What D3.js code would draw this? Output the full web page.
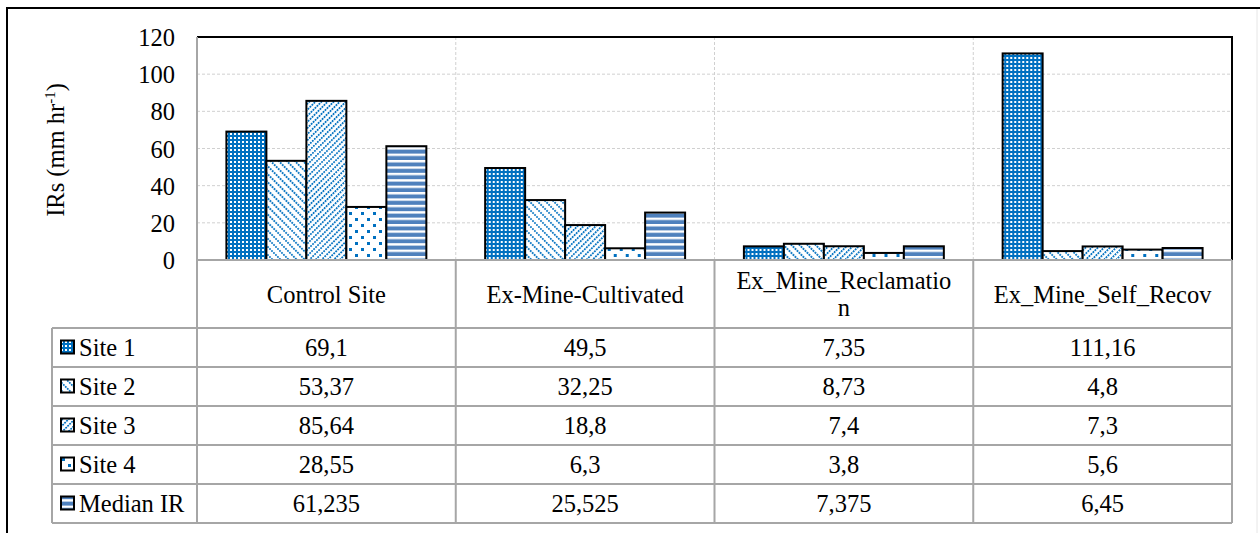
<!DOCTYPE html>
<html>
<head>
<meta charset="utf-8">
<script src="https://cdn.jsdelivr.net/npm/d3@7"></script>
<style>
  body { margin: 0; background: #fff; }
</style>
</head>
<body>
<script>
// chart data
const categories = ["Control Site", "Ex-Mine-Cultivated", "Ex_Mine_Reclamation", "Ex_Mine_Self_Recov"];
const categoryLines = [["Control Site"], ["Ex-Mine-Cultivated"], ["Ex_Mine_Reclamatio", "n"], ["Ex_Mine_Self_Recov"]];
const seriesNames = ["Site 1", "Site 2", "Site 3", "Site 4", "Median IR"];
const site1 = [69.1, 49.5, 7.35, 111.16];
const site2 = [53.37, 32.25, 8.73, 4.8];
const site3 = [85.64, 18.8, 7.4, 7.3];
const site4 = [28.55, 6.3, 3.8, 5.6];
const medianIR = [61.235, 25.525, 7.375, 6.45];
const yTicks = [0, 20, 40, 60, 80, 100, 120];

const allSeries = [site1, site2, site3, site4, medianIR];

const w = 1260, h = 533;
const plotL = 197, plotR = 1232, plotT = 37, plotB = 260;
const rowTop = 328, rowH = 39, tableLeft = 52;
const gridCol = "#a6a6a6";
const fontFam = "Liberation Serif";
const fs = 24.5;

const svg = d3.select("body").append("svg")
  .attr("width", w).attr("height", h)
  .attr("font-family", fontFam);

// patterns
const defs = svg.append("defs");
const blue = "#0070c0";

// Site 1: blue with small white dots
let p = defs.append("pattern").attr("id", "pat0").attr("patternUnits", "userSpaceOnUse")
  .attr("width", 4).attr("height", 4);
p.append("rect").attr("width", 4).attr("height", 4).attr("fill", blue);
p.append("rect").attr("x", 1).attr("y", 1).attr("width", 2).attr("height", 2).attr("fill", "#fff");

// Site 2: dotted "\" lines
p = defs.append("pattern").attr("id", "pat1").attr("patternUnits", "userSpaceOnUse")
  .attr("width", 5.7).attr("height", 2.8).attr("patternTransform", "rotate(-45)");
p.append("rect").attr("width", 5.7).attr("height", 2.8).attr("fill", "#fff");
p.append("rect").attr("width", 1.8).attr("height", 1.8).attr("fill", blue);

// Site 3: dotted "/" lines
p = defs.append("pattern").attr("id", "pat2").attr("patternUnits", "userSpaceOnUse")
  .attr("width", 4.3).attr("height", 2.8).attr("patternTransform", "rotate(45)");
p.append("rect").attr("width", 4.3).attr("height", 2.8).attr("fill", "#fff");
p.append("rect").attr("width", 1.8).attr("height", 1.8).attr("fill", blue);

// Site 4: sparse dots
p = defs.append("pattern").attr("id", "pat3").attr("patternUnits", "userSpaceOnUse")
  .attr("width", 12).attr("height", 12);
p.append("rect").attr("width", 12).attr("height", 12).attr("fill", "#fff");
[[2, 2], [8, 8]].forEach(k => p.append("rect").attr("x", k[0]).attr("y", k[1]).attr("width", 3).attr("height", 3).attr("fill", blue));

// Median: horizontal stripes
p = defs.append("pattern").attr("id", "pat4").attr("patternUnits", "userSpaceOnUse")
  .attr("width", 6.4).attr("height", 6.4);
p.append("rect").attr("width", 6.4).attr("height", 6.4).attr("fill", "#fff");
p.append("rect").attr("y", 2.4).attr("width", 6.4).attr("height", 4).attr("fill", "#4f81bd");

// outer frame
svg.append("line").attr("x1", 7).attr("x2", 7).attr("y1", 8).attr("y2", h)
  .attr("stroke", "#000").attr("stroke-width", 2);
svg.append("line").attr("x1", 6).attr("x2", w).attr("y1", 8).attr("y2", 8)
  .attr("stroke", "#000").attr("stroke-width", 2);
svg.append("line").attr("x1", 1257).attr("x2", 1257).attr("y1", 9).attr("y2", h)
  .attr("stroke", "#e6e6e6").attr("stroke-width", 1);

// scales
const x0 = d3.scaleBand().domain(categories).range([plotL, plotR]);
const innerPad = 29.4;
const x1 = d3.scaleBand().domain(seriesNames).range([innerPad, x0.bandwidth() - innerPad]);
const y = d3.scaleLinear().domain([0, 120]).range([plotB, plotT]);

// gridlines
svg.append("g").selectAll("line").data(yTicks.filter(t => t > 0 && t < 120)).enter().append("line")
  .attr("x1", plotL).attr("x2", plotR)
  .attr("y1", d => y(d)).attr("y2", d => y(d))
  .attr("stroke", "#d0d0d0").attr("stroke-width", 1).attr("stroke-dasharray", "3,2");
svg.append("g").selectAll("line").data(categories.slice(1)).enter().append("line")
  .attr("x1", d => x0(d)).attr("x2", d => x0(d))
  .attr("y1", plotT).attr("y2", plotB)
  .attr("stroke", "#d0d0d0").attr("stroke-width", 1).attr("stroke-dasharray", "3,2");

// bars
const groups = svg.append("g").selectAll("g").data(categories).enter().append("g")
  .attr("transform", d => "translate(" + x0(d) + ",0)");
groups.selectAll("rect")
  .data((d, ci) => seriesNames.map((s, si) => ({ s: s, si: si, v: allSeries[si][ci] })))
  .enter().append("rect")
  .attr("x", d => x1(d.s))
  .attr("y", d => y(d.v))
  .attr("width", x1.bandwidth())
  .attr("height", d => plotB - y(d.v))
  .attr("fill", d => "url(#pat" + d.si + ")")
  .attr("stroke", "#000").attr("stroke-width", 2);

// plot border (top, right black)
svg.append("line").attr("x1", plotL).attr("x2", plotR + 1).attr("y1", plotT).attr("y2", plotT)
  .attr("stroke", "#000").attr("stroke-width", 2);
svg.append("line").attr("x1", plotR).attr("x2", plotR).attr("y1", plotT).attr("y2", plotB)
  .attr("stroke", "#000").attr("stroke-width", 2);

// y axis
const yAxis = d3.axisLeft(y).tickValues(yTicks).tickSize(0).tickPadding(0);
const ya = svg.append("g").attr("transform", "translate(175,0)").call(yAxis)
  .attr("font-family", fontFam).attr("font-size", fs);
ya.select(".domain").remove();
ya.selectAll("text").attr("fill", "#000").attr("dy", "0.35em");

// y label
const yl = svg.append("text")
  .attr("transform", "translate(64,150) rotate(-90)")
  .attr("text-anchor", "middle").attr("font-size", fs).attr("fill", "#000");
yl.append("tspan").text("IRs (mm hr");
yl.append("tspan").text("-1").attr("font-size", 15).attr("dy", -9);
yl.append("tspan").text(")").attr("dy", 9);

// data table
const tbl = svg.append("g").attr("stroke", gridCol).attr("stroke-width", 2);
d3.range(seriesNames.length + 1).forEach(i => {
  tbl.append("line").attr("x1", tableLeft).attr("x2", plotR)
    .attr("y1", rowTop + i * rowH).attr("y2", rowTop + i * rowH);
});
tbl.append("line").attr("x1", plotL).attr("x2", plotR).attr("y1", plotB).attr("y2", plotB);
tbl.append("line").attr("x1", tableLeft).attr("x2", tableLeft).attr("y1", rowTop).attr("y2", rowTop + rowH * 5);
categories.forEach(c => {
  tbl.append("line").attr("x1", x0(c)).attr("x2", x0(c))
    .attr("y1", c === categories[0] ? plotT : plotB).attr("y2", rowTop + rowH * 5);
});
tbl.append("line").attr("x1", plotR).attr("x2", plotR).attr("y1", plotB).attr("y2", rowTop + rowH * 5);

// category header
categories.forEach((c, ci) => {
  const lines = categoryLines[ci];
  const cy = (plotB + rowTop) / 2;
  lines.forEach((t, li) => {
    svg.append("text")
      .attr("x", x0(c) + x0.bandwidth() / 2)
      .attr("y", cy + (li - (lines.length - 1) / 2) * 27)
      .attr("dy", "0.35em")
      .attr("text-anchor", "middle").attr("font-size", fs).attr("fill", "#000")
      .text(t);
  });
});

// rows
const fmt = v => String(v).replace(".", ",");
seriesNames.forEach((s, si) => {
  const cy = rowTop + si * rowH + rowH / 2;
  svg.append("rect").attr("x", 61).attr("y", cy - 7).attr("width", 13).attr("height", 13)
    .attr("fill", "url(#pat" + si + ")").attr("stroke", "#000").attr("stroke-width", 2);
  svg.append("text").attr("x", 79).attr("y", cy).attr("dy", "0.35em")
    .attr("font-size", fs).attr("fill", "#000").text(s);
  categories.forEach((c, ci) => {
    svg.append("text")
      .attr("x", x0(c) + x0.bandwidth() / 2).attr("y", cy).attr("dy", "0.35em")
      .attr("text-anchor", "middle").attr("font-size", fs).attr("fill", "#000")
      .text(fmt(allSeries[si][ci]));
  });
});
</script>
</body>
</html>
